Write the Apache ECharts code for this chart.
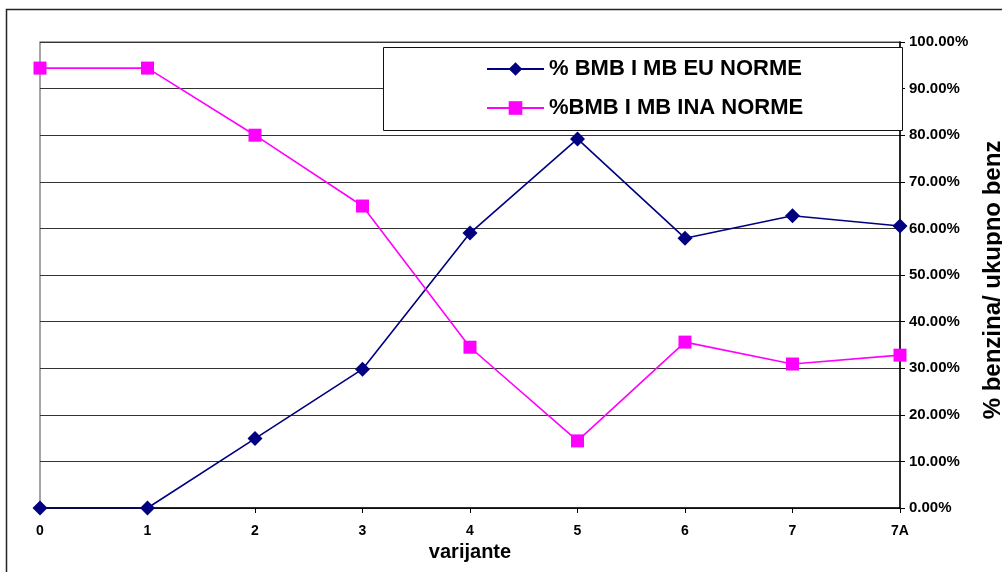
<!DOCTYPE html>
<html>
<head>
<meta charset="utf-8">
<script src="https://cdn.jsdelivr.net/npm/echarts@6/dist/echarts.min.js"></script>
<style>
html,body{margin:0;padding:0;background:#fff;}
#c{width:1002px;height:572px;}
</style>
</head>
<body>
<div id="c"></div>
<script>
var categories = ['0','1','2','3','4','5','6','7','7A'];
var euNorme = [0, 0, 14.9, 29.8, 59.0, 79.2, 57.9, 62.7, 60.5];
var inaNorme = [94.4, 94.4, 80.0, 64.8, 34.5, 14.4, 35.6, 30.9, 32.8];
var seriesNames = ['% BMB I MB EU NORME', '%BMB I MB INA NORME'];
var xTitle = 'varijante';
var yTitle = '% benzina/ ukupno benz';

var FONT = 'Liberation Sans, Arial, sans-serif';
var chart = echarts.init(document.getElementById('c'), null, {renderer:'canvas'});
chart.setOption({
  animation: false,
  backgroundColor: '#fff',
  graphic: [
    {type:'rect', shape:{x:6.5, y:9.5, width:1100, height:700}, style:{fill:null, stroke:'#222', lineWidth:1.5}, silent:true, z:0},
    {type:'rect', shape:{x:383.5, y:47.5, width:519, height:83}, style:{fill:'#fff', stroke:'#111', lineWidth:1}, z:5},
    {type:'text', x:993, y:280, rotation:Math.PI/2, style:{text:yTitle, font:'bold 24px '+FONT, fill:'#000', align:'center', verticalAlign:'middle'}, z:5}
  ],
  legend: {
    orient: 'vertical',
    left: 481,
    top: 53,
    itemWidth: 57,
    itemHeight: 17,
    itemGap: 17,
    z: 10,
    textStyle: {fontFamily: FONT, fontWeight:'bold', fontSize:22, color:'#000'},
    data: seriesNames
  },
  grid: {left:40, top:42, right:102, bottom:64, show:true, borderColor:'#888', borderWidth:1.5, backgroundColor:'#fff'},
  xAxis: {
    type:'category',
    data: categories,
    boundaryGap:false,
    name: xTitle,
    nameLocation:'middle',
    nameGap:34,
    nameTextStyle:{fontFamily:FONT, fontWeight:'bold', fontSize:20, color:'#000'},
    axisLine:{lineStyle:{color:'#000', width:1.5}},
    axisTick:{show:true, alignWithLabel:true, length:5, lineStyle:{color:'#000'}},
    axisLabel:{fontFamily:FONT, fontWeight:'bold', fontSize:14, color:'#000', margin:16},
    splitLine:{show:false}
  },
  yAxis: {
    type:'value',
    position:'right',
    min:0, max:100, interval:10,
    axisLine:{show:true, lineStyle:{color:'#000', width:1.5}},
    axisTick:{show:true, inside:false, length:5, lineStyle:{color:'#000'}},
    axisLabel:{fontFamily:FONT, fontWeight:'bold', fontSize:15, color:'#000', margin:9,
      formatter:function(v){return v.toFixed(2)+'%';}},
    splitLine:{show:true, lineStyle:{color:'#333', width:1}}
  },
  series: [
    {name:seriesNames[0], type:'line', data:euNorme, symbol:'diamond', symbolSize:15,
     lineStyle:{color:'#000080', width:1.6}, itemStyle:{color:'#000080'}, z:3},
    {name:seriesNames[1], type:'line', data:inaNorme, symbol:'rect', symbolSize:13,
     lineStyle:{color:'#FF00FF', width:1.6}, itemStyle:{color:'#FF00FF'}, z:3}
  ]
});
</script>
</body>
</html>
